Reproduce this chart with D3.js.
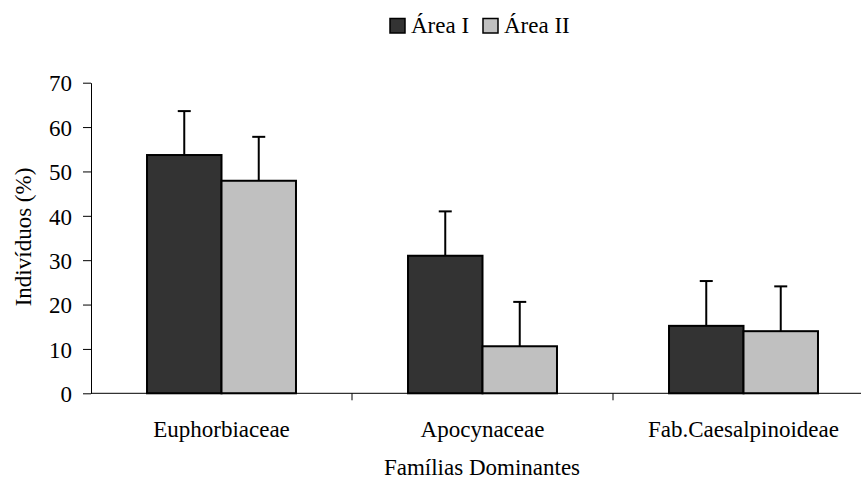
<!DOCTYPE html>
<html><head><meta charset="utf-8">
<script src="https://cdn.jsdelivr.net/npm/d3@7"></script>
<style>body{margin:0;background:#fff}svg{display:block}</style>
</head><body>
<svg id="c" width="861" height="480"></svg>
<script>
const categories = ["Euphorbiaceae", "Apocynaceae", "Fab.Caesalpinoideae"];
const seriesNames = ["Área I", "Área II"];
const areaI = [53.7, 31.0, 15.2];
const areaII = [47.9, 10.6, 14.0];
const errI = [9.9, 10.0, 10.1];
const errII = [9.9, 10.0, 10.1];
const yTicks = [0, 10, 20, 30, 40, 50, 60, 70];
const colors = ["#333333", "#c0c0c0"];

const FONT = '"Liberation Serif","Times New Roman",Times,serif';
const FS = "23px";
const svg = d3.select("#c");
const x0 = d3.scaleBand().domain(categories).range([91, 874]).paddingInner(0).paddingOuter(0);
const x1 = d3.scaleBand().domain(seriesNames).range([0, x0.bandwidth()]).paddingInner(0).paddingOuter(0.752);
const y = d3.scaleLinear().domain([0, 70]).range([393.3, 82.7]);

const data = categories.map((c, i) => ({cat: c, vals: [
  {s: seriesNames[0], v: areaI[i], e: errI[i]},
  {s: seriesNames[1], v: areaII[i], e: errII[i]}
]}));

const g = svg.append("g");
data.forEach(d => {
  d.vals.forEach(b => {
    const cx = x0(d.cat) + x1(b.s) + x1.bandwidth() / 2;
    g.append("line").attr("x1", cx).attr("x2", cx).attr("y1", y(b.v)).attr("y2", y(b.v + b.e))
      .attr("stroke", "#000").attr("stroke-width", 2);
    g.append("line").attr("x1", cx - 6.5).attr("x2", cx + 6.5).attr("y1", y(b.v + b.e)).attr("y2", y(b.v + b.e))
      .attr("stroke", "#000").attr("stroke-width", 2);
  });
});
data.forEach(d => {
  d.vals.forEach((b, j) => {
    g.append("rect")
      .attr("x", x0(d.cat) + x1(b.s))
      .attr("y", y(b.v))
      .attr("width", x1.bandwidth())
      .attr("height", y(0) - y(b.v))
      .attr("fill", colors[j]).attr("stroke", "#000").attr("stroke-width", 2);
  });
});

const yAxis = d3.axisLeft(y).tickValues(yTicks).tickSize(8).tickPadding(11).tickSizeOuter(0);
const ya = svg.append("g").attr("transform", "translate(91,0)").call(yAxis);
ya.attr("font-family", FONT).attr("font-size", FS);
ya.selectAll("text").attr("fill", "#000").attr("dy", "0.36em");
ya.selectAll("line,path").attr("stroke", "#000").attr("stroke-width", 1);

const xa = svg.append("g").attr("transform", "translate(0,393.3)");
xa.append("line").attr("x1", 91).attr("x2", 874).attr("stroke", "#000");
categories.forEach((c, i) => {
  if (i > 0) xa.append("line").attr("x1", x0(c)).attr("x2", x0(c)).attr("y1", 0).attr("y2", 7).attr("stroke", "#000");
  xa.append("text").attr("x", x0(c) + x0.bandwidth() / 2).attr("y", 43.5).attr("text-anchor", "middle")
    .attr("font-family", FONT).attr("font-size", FS).text(c);
});

svg.append("text").attr("x", 482).attr("y", 474.5).attr("text-anchor", "middle")
  .attr("font-family", FONT).attr("font-size", FS).text("Famílias Dominantes");
svg.append("text").attr("transform", "translate(30.5,237) rotate(-90)").attr("text-anchor", "middle")
  .attr("font-family", FONT).attr("font-size", FS).text("Indivíduos (%)");

const legX = [390, 483];
seriesNames.forEach((s, i) => {
  svg.append("rect").attr("x", legX[i]).attr("y", 18.5).attr("width", 15).attr("height", 14.5)
    .attr("fill", colors[i]).attr("stroke", "#000").attr("stroke-width", 1.5);
  svg.append("text").attr("x", legX[i] + 21).attr("y", 33).attr("font-family", FONT).attr("font-size", FS).text(s);
});
</script>
</body></html>
